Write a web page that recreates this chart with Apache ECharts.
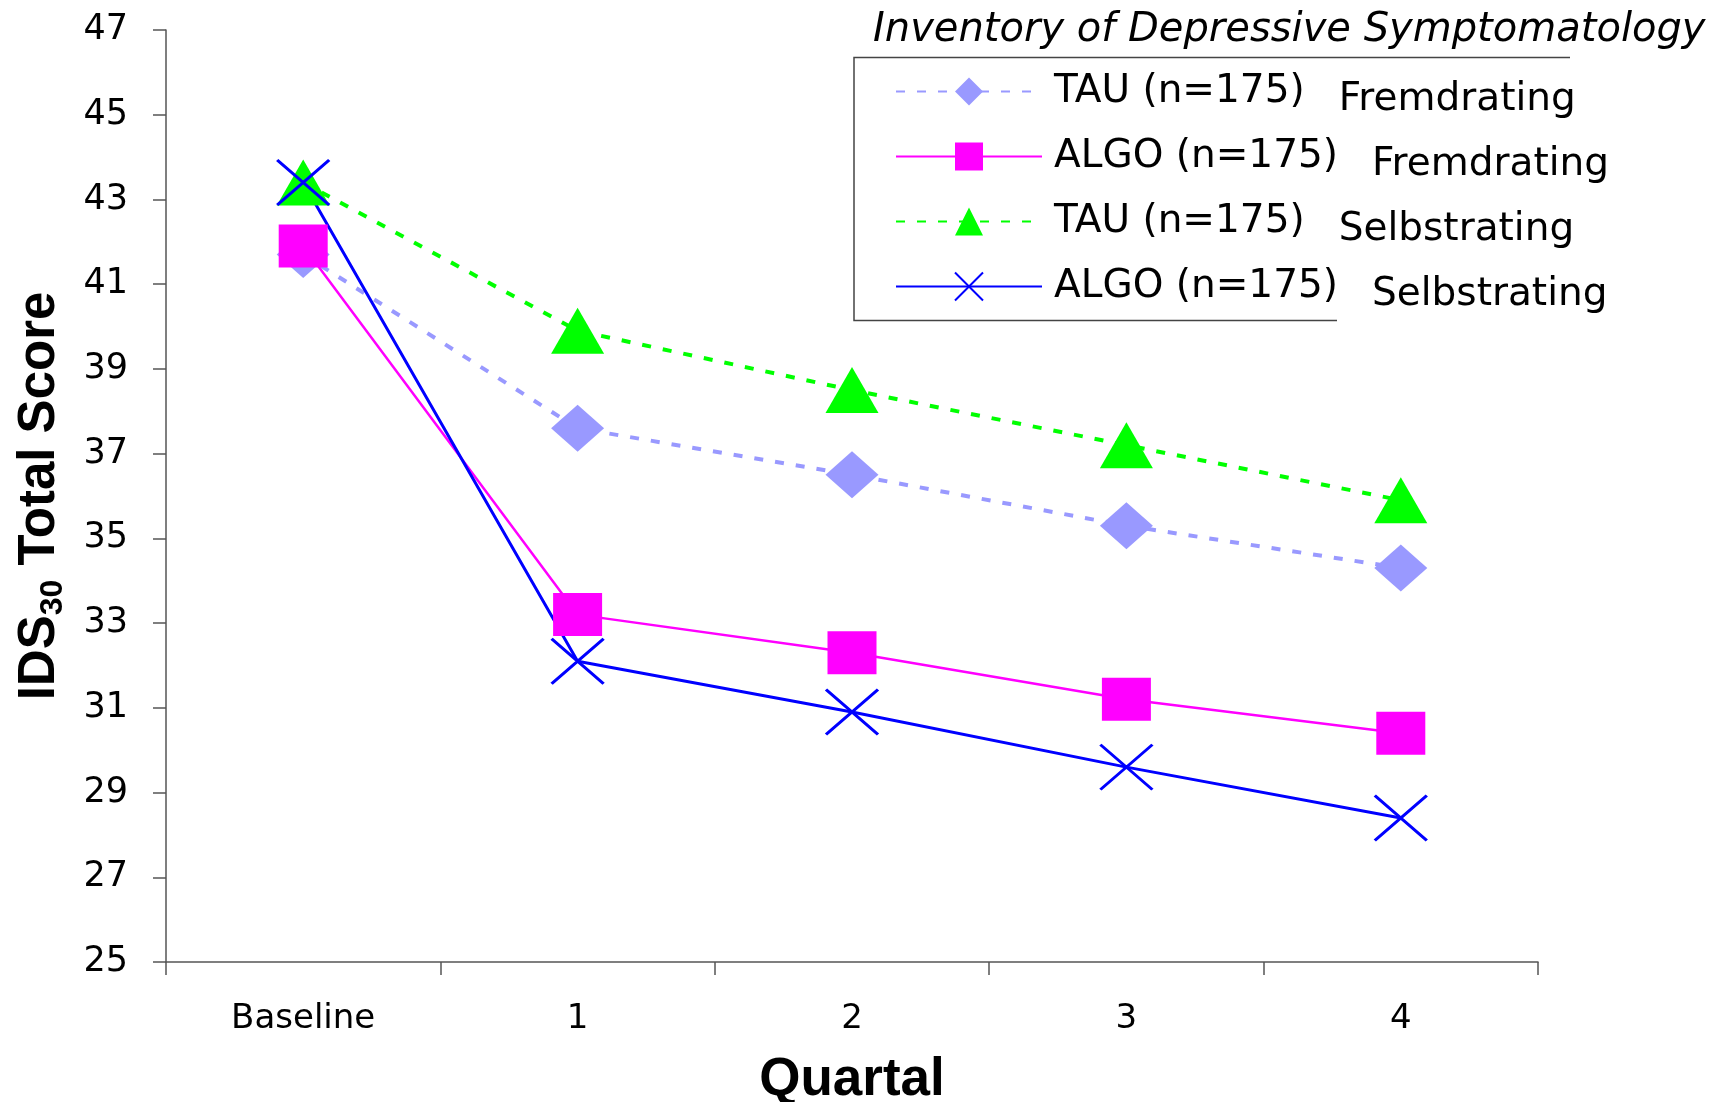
<!DOCTYPE html>
<html><head><meta charset="utf-8">
<script src="https://cdn.jsdelivr.net/npm/echarts@6/dist/echarts.min.js"></script>
<style>html,body{margin:0;padding:0;background:#fff}#c{width:1722px;height:1102px}</style>
</head><body><div id="c"></div>
<script>
// ---- data ----
const categories = ['Baseline', '1', '2', '3', '4'];
const tauFremd   = [41.7, 37.6, 36.5, 35.3, 34.3];
const algoFremd  = [41.9, 33.2, 32.3, 31.2, 30.4];
const tauSelbst  = [43.4, 39.9, 38.5, 37.2, 35.9];
const algoSelbst = [43.4, 32.1, 30.9, 29.6, 28.4];
const groups = ['TAU (n=175)', 'ALGO (n=175)', 'TAU (n=175)', 'ALGO (n=175)'];
const raters = ['Fremdrating', 'Fremdrating', 'Selbstrating', 'Selbstrating'];
const yMin = 25, yMax = 47, yStep = 2;
const legendTitle = 'Inventory of Depressive Symptomatology';
const xTitle = 'Quartal';
const yTitleMain = 'IDS', yTitleSub = '30', yTitleRest = ' Total Score';

const names = groups.map((g, i) => g + ' ' + raters[i]);
const FONT = 'DejaVu Sans';

const chart = echarts.init(document.getElementById('c'), null, {renderer: 'canvas'});

const dashed = [9, 12];
const series = [
  {name: names[0], data: tauFremd, color: '#9999ff', symbol: 'diamond', symbolSize: [53, 47],
   lineStyle: {color: '#9999ff', width: 4, type: dashed}, itemStyle: {color: '#9999ff'}},
  {name: names[1], data: algoFremd, color: '#ff00ff', symbol: 'rect', symbolSize: [49, 43],
   lineStyle: {color: '#ff00ff', width: 2.5, type: 'solid'}, itemStyle: {color: '#ff00ff'}},
  {name: names[2], data: tauSelbst, color: '#00ff00', symbol: 'triangle', symbolSize: [53, 46],
   lineStyle: {color: '#00ff00', width: 4, type: dashed}, itemStyle: {color: '#00ff00'}},
  {name: names[3], data: algoSelbst, color: '#0000ff', symbol: 'path://M0,0L10,10M10,0L0,10', symbolSize: [52, 45],
   lineStyle: {color: '#0000ff', width: 3, type: 'solid'}, itemStyle: {color: '#0000ff', borderColor: '#0000ff', borderWidth: 3}}
].map(s => Object.assign({type: 'line', showAllSymbol: true, animation: false, emphasis: {disabled: true}}, s));

const option = {
  backgroundColor: '#ffffff',
  animation: false,
  textStyle: {fontFamily: FONT},
  title: {
    text: legendTitle, left: 873, top: 11, padding: 0,
    textStyle: {fontFamily: FONT, fontStyle: 'italic', fontWeight: 'normal', fontSize: 40, color: '#000'}
  },
  grid: {left: 166, right: 184, top: 30, bottom: 140, containLabel: false, outerBoundsMode: 'none'},
  xAxis: {
    type: 'category', data: categories, boundaryGap: true,
    name: xTitle, nameLocation: 'middle', nameGap: 92,
    nameTextStyle: {fontFamily: 'Liberation Sans', fontWeight: 'bold', fontSize: 53, color: '#000'},
    axisLine: {lineStyle: {color: '#555', width: 1.5}},
    axisTick: {show: true, interval: 0, alignWithLabel: false, length: 13, lineStyle: {color: '#555', width: 1.5}},
    axisLabel: {interval: 0, margin: 40, fontSize: 34, color: '#000', fontFamily: FONT},
    splitLine: {show: false}
  },
  yAxis: {
    type: 'value', min: yMin, max: yMax, interval: yStep,
    name: '{m|' + yTitleMain + '}{s|' + yTitleSub + '}{m|' + yTitleRest + '}',
    nameLocation: 'middle', nameGap: 101, nameRotate: 90,
    nameTextStyle: {
      rich: {
        m: {fontFamily: 'Liberation Sans', fontWeight: 'bold', fontSize: 51, color: '#000', lineHeight: 50},
        s: {fontFamily: 'Liberation Sans', fontWeight: 'bold', fontSize: 32, color: '#000', lineHeight: 50, padding: [27, 0, 0, 0]}
      }
    },
    axisLine: {show: true, lineStyle: {color: '#555', width: 1.5}},
    axisTick: {show: true, length: 13, lineStyle: {color: '#555', width: 1.5}},
    axisLabel: {margin: 38, fontSize: 35, color: '#000', fontFamily: FONT},
    splitLine: {show: false}
  },
  legend: {
    orient: 'vertical', left: 895, top: 64, padding: 0,
    itemWidth: 146, itemHeight: 35, itemGap: 10,
    selectedMode: false,
    data: names,
    formatter: function (name) {
      const i = names.indexOf(name);
      return '{a|' + groups[i] + '}{b|' + raters[i] + '}';
    },
    textStyle: {
      rich: {
        a: {fontFamily: FONT, fontSize: 39, lineHeight: 40, color: '#000', padding: [0, 0, 0, 7]},
        b: {fontFamily: FONT, fontSize: 39, lineHeight: 40, color: '#000', padding: [16, 0, 0, 34]}
      }
    }
  },
  graphic: [{
    type: 'polyline', silent: true,
    shape: {points: [[1570, 57.5], [854, 57.5], [854, 320.5], [1337, 320.5]]},
    style: {stroke: '#444', lineWidth: 1.5, fill: null}
  }],
  series: series
};
chart.setOption(option);
</script>
</body></html>
